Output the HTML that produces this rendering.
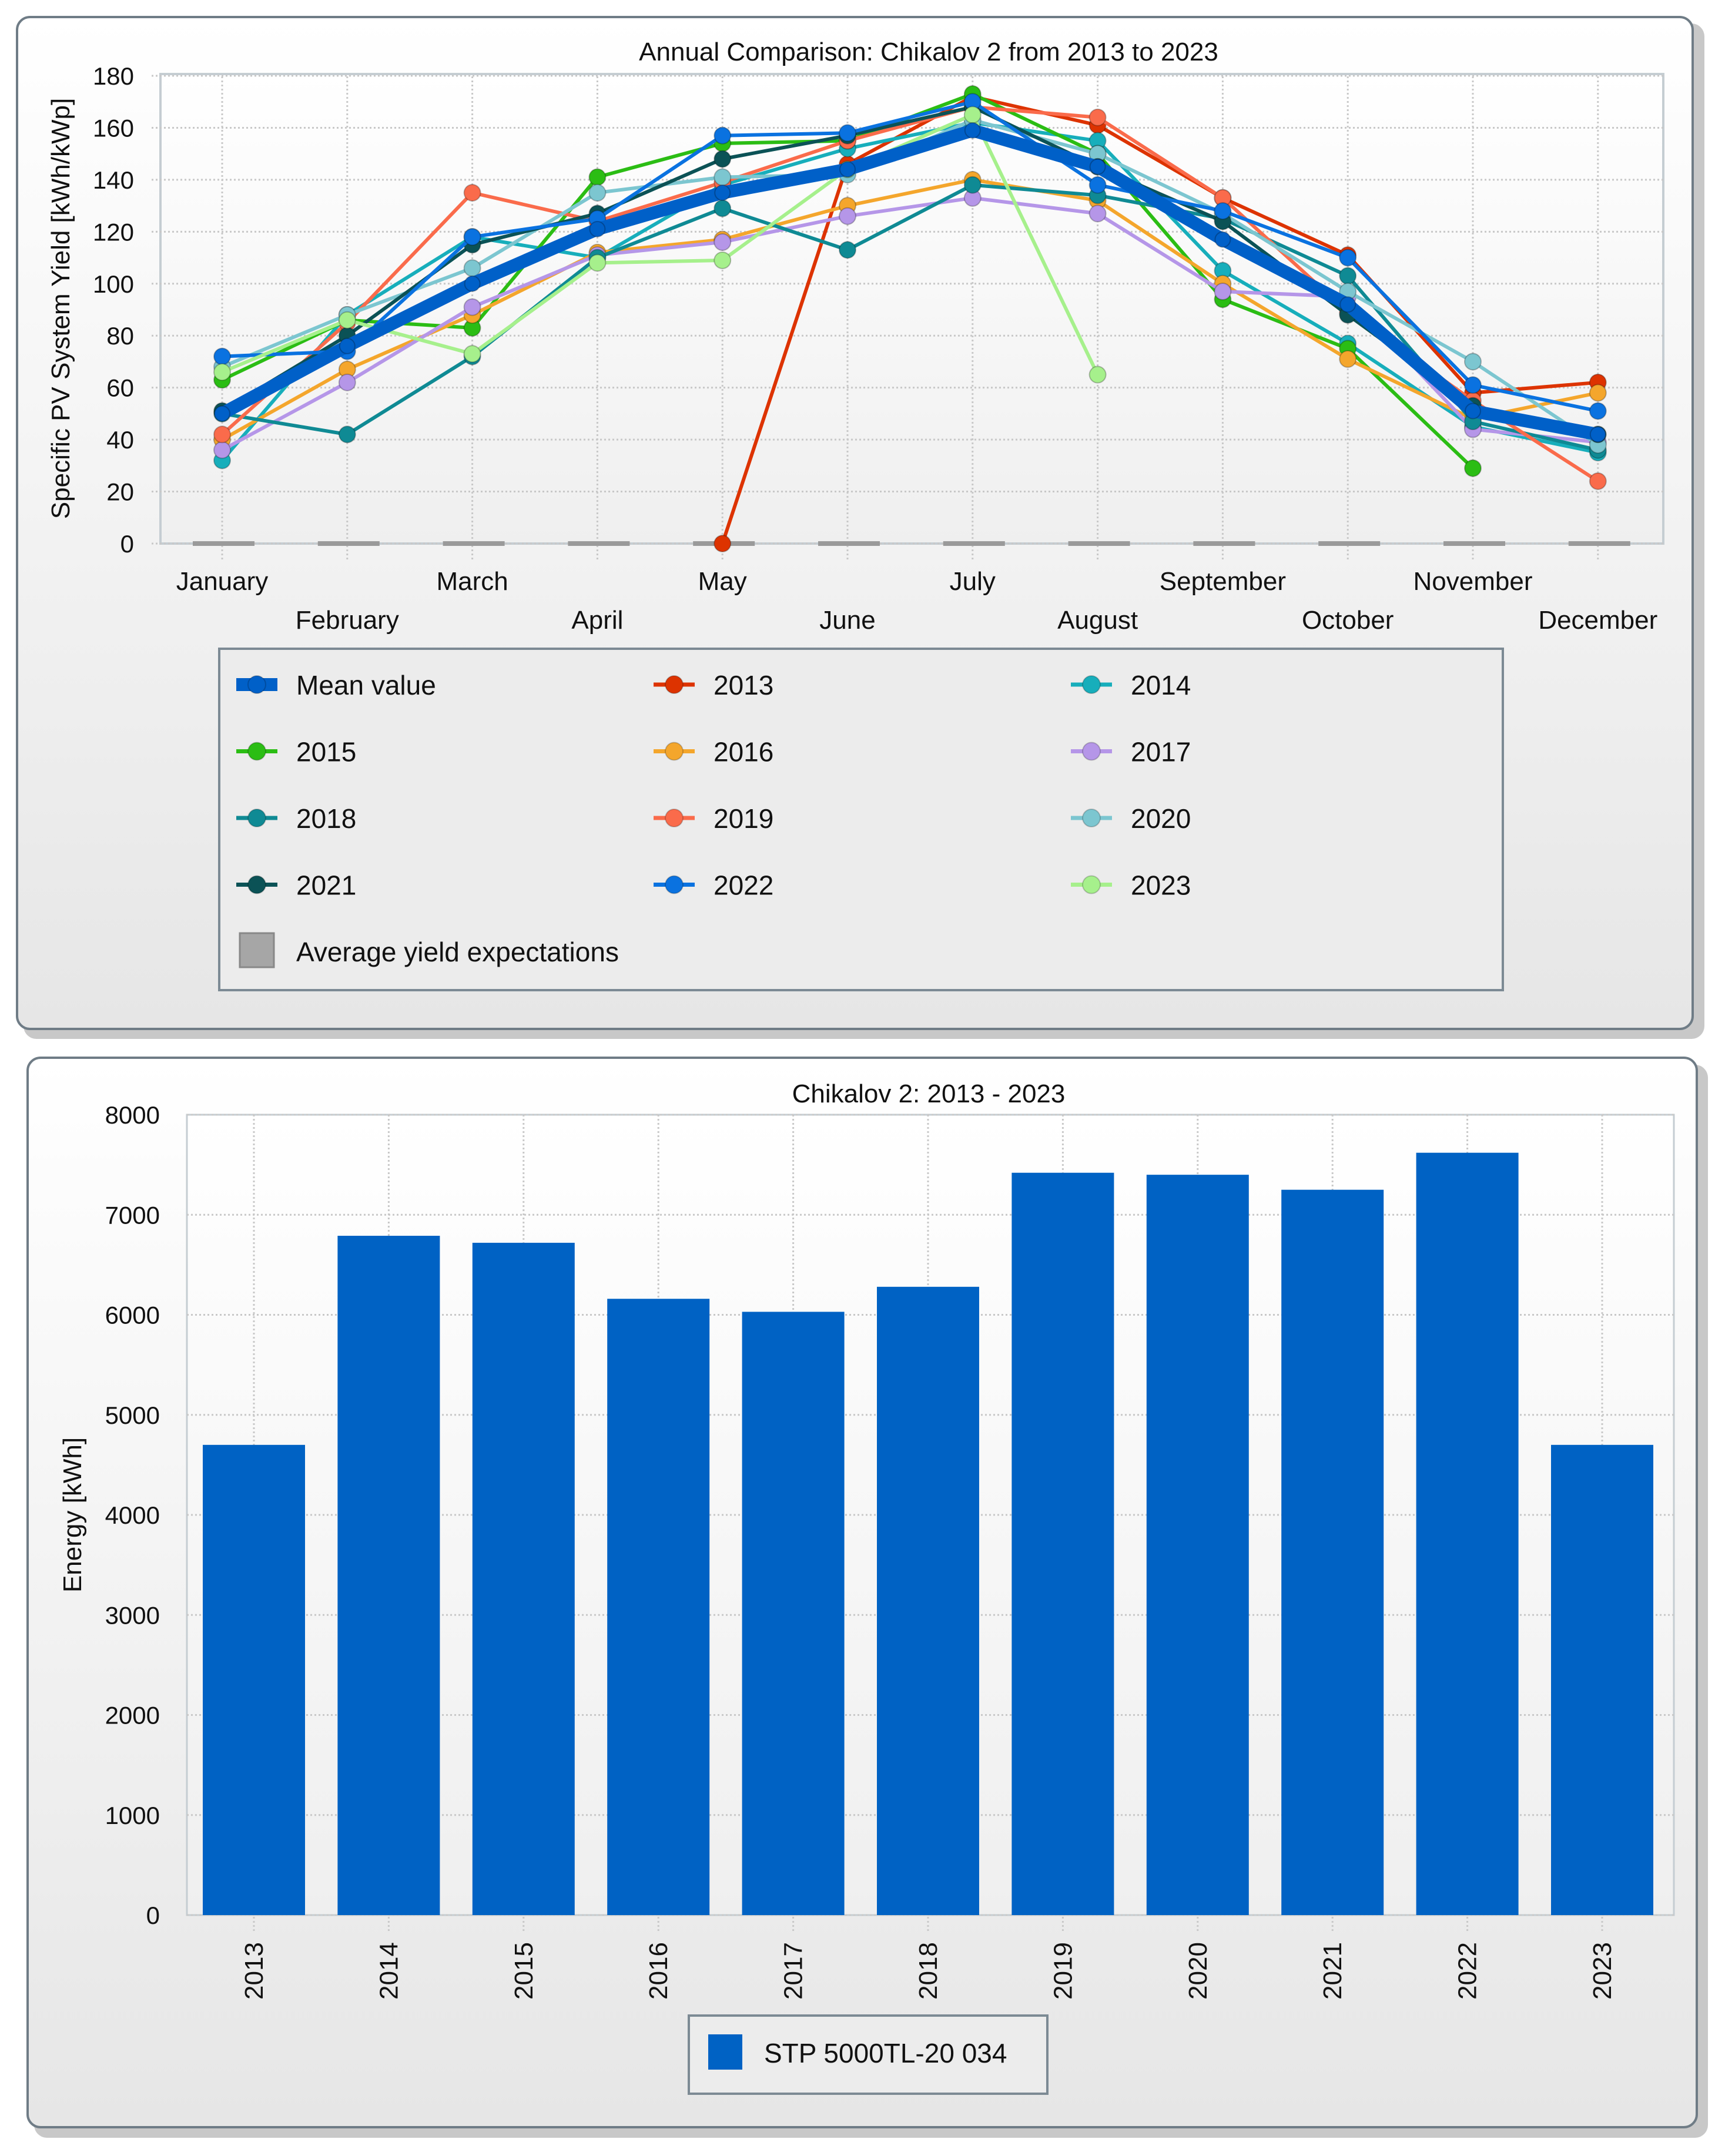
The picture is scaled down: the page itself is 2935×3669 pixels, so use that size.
<!DOCTYPE html>
<html><head><meta charset="utf-8"><style>
html,body{margin:0;padding:0;background:#fff}
svg{display:block;font-family:"Liberation Sans",sans-serif}
</style></head><body>
<svg id="s" width="2935" height="3669" viewBox="0 0 2935 3669" xmlns="http://www.w3.org/2000/svg">
<defs>
<linearGradient id="pg" x1="0" y1="0" x2="0" y2="1"><stop offset="0" stop-color="#ffffff"/><stop offset="1" stop-color="#e6e6e6"/></linearGradient>
<linearGradient id="ag" x1="0" y1="0" x2="0" y2="1"><stop offset="0" stop-color="#ffffff"/><stop offset="1" stop-color="#efefef"/></linearGradient>
</defs>
<!-- top panel -->
<rect x="40" y="40" width="2860" height="1728" rx="22" fill="#c8c8c8"/>
<rect x="29" y="29" width="2851" height="1722" rx="22" fill="url(#pg)" stroke="#6f7c86" stroke-width="4"/>
<text x="1580" y="103" font-size="44" text-anchor="middle" fill="#111">Annual Comparison: Chikalov 2 from 2013 to 2023</text>
<rect x="273" y="126" width="2557" height="799" fill="url(#ag)" stroke="#c5cdd2" stroke-width="4"/>
<g id="g1"></g>
<text transform="translate(118,525) rotate(-90)" font-size="44" text-anchor="middle" fill="#111">Specific PV System Yield [kWh/kWp]</text>
<rect x="373" y="1104" width="2184" height="581" fill="#ececec" stroke="#7c8a94" stroke-width="4"/>
<g id="leg"></g>
<!-- bottom panel -->
<rect x="58" y="1812" width="2848" height="1826" rx="22" fill="#c8c8c8"/>
<rect x="47" y="1800" width="2840" height="1820" rx="22" fill="url(#pg)" stroke="#6f7c86" stroke-width="4"/>
<text x="1580" y="1876" font-size="44" text-anchor="middle" fill="#111">Chikalov 2: 2013 - 2023</text>
<rect x="318" y="1897" width="2530" height="1362" fill="url(#ag)" stroke="#c5cdd2" stroke-width="3"/>
<g id="g2"></g>
<text transform="translate(138,2578) rotate(-90)" font-size="44" text-anchor="middle" fill="#111">Energy [kWh]</text>
<rect x="1172" y="3430" width="610" height="133" fill="#ececec" stroke="#7c8a94" stroke-width="4"/>
<rect x="1205" y="3462" width="58" height="60" fill="#0062c4"/>
<text x="1300" y="3510" font-size="46" fill="#111">STP 5000TL-20 034</text>
</svg>
<script>
const NS="http://www.w3.org/2000/svg";
const months=["January","February","March","April","May","June","July","August","September","October","November","December"];
const yTicks1=[0,20,40,60,80,100,120,140,160,180];
const seriesNames=["Mean value","2013","2014","2015","2016","2017","2018","2019","2020","2021","2022","2023"];
const sMean=[50,76,100,121,135,144,159,145,117,92,51,42];
const s2013=[null,null,null,null,0,146,172,161,133,111,58,62];
const s2014=[32,88,118,110,138,152,162,155,105,77,45,35];
const s2015=[63,86,83,141,154,155,173,150,94,75,29,null];
const s2016=[40,67,88,112,117,130,140,132,100,71,48,58];
const s2017=[36,62,91,111,116,126,133,127,97,95,44,39];
const s2018=[50,42,72,110,129,113,138,134,125,103,47,36];
const s2019=[42,85,135,124,139,155,168,164,133,89,55,24];
const s2020=[68,88,106,135,141,142,163,150,127,97,70,38];
const s2021=[51,80,115,127,148,157,168,145,124,88,53,42];
const s2022=[72,74,118,125,157,158,170,138,128,110,61,51];
const s2023=[66,86,73,108,109,144,165,65,null,null,null,null];
const expect=[0,0,0,0,0,0,0,0,0,0,0,0];
const years=["2013","2014","2015","2016","2017","2018","2019","2020","2021","2022","2023"];
const energy=[4700,6790,6720,6160,6030,6280,7420,7400,7250,7620,4700];
const yTicks2=[0,1000,2000,3000,4000,5000,6000,7000,8000];

const colors=["#0060c8","#dd3300","#17aebb","#2bbd14","#f4a62c","#b596e8","#0f8a94","#fa6b4b","#7cc6d0","#0b5256","#0a72e0","#a6f08c"];
const allSeries=[sMean,s2013,s2014,s2015,s2016,s2017,s2018,s2019,s2020,s2021,s2022,s2023];

function mk(tag,attrs,parent){const e=document.createElementNS(NS,tag);for(const k in attrs)e.setAttribute(k,attrs[k]);parent.appendChild(e);return e;}
const X1=i=>378+i*212.8;
const Y1=v=>925-v*(796/180);
const g1=document.getElementById('g1');
// grid
yTicks1.forEach(t=>{
  const l=mk('line',{x1:258,x2:2830,y1:Y1(t),y2:Y1(t),stroke:"#c8c8c8","stroke-width":3,"stroke-dasharray":"3 4"},g1);
  
  
  const tx=mk('text',{x:228,y:Y1(t)+15,"font-size":42,"text-anchor":"end",fill:"#111"},g1);
  tx.textContent=t;
  
  
});
months.forEach((m,i)=>{
  const l=mk('line',{x1:X1(i),x2:X1(i),y1:130,y2:955,stroke:"#c8c8c8","stroke-width":3,"stroke-dasharray":"3 4"},g1);
  
  
  const tx=mk('text',{x:X1(i),y:i%2?1070:1004,"font-size":44,"text-anchor":"middle",fill:"#111"},g1);
  tx.textContent=m;
  
  
  const e=mk('rect',{x:X1(i)-50,y:Y1(expect[i])-4,width:105,height:8,fill:"#9a9a9a"},g1);
  
  
});
// series: draw years first, mean on top
const order=[1,2,3,4,5,6,7,8,9,10,11,0];
order.forEach(si=>{
  const d=allSeries[si];const c=colors[si];const mean=si===0;
  const g=mk('g',{},g1);
  
  
  let pts=[];
  d.forEach((v,i)=>{if(v!==null)pts.push(X1(i)+','+Y1(v));});
  const pl=mk('polyline',{points:pts.join(' '),fill:"none",stroke:c,"stroke-width":mean?22:6,"stroke-linejoin":"round"},g);
  
  
  d.forEach((v,i)=>{if(v===null)return;
    const p=mk('circle',{cx:X1(i),cy:Y1(v),r:mean?13:14,fill:c,stroke:"rgba(0,0,0,0.25)","stroke-width":2},g);
    
    
  });
});
// legend
const leg=document.getElementById('leg');
seriesNames.forEach((n,i)=>{
  const col=i%3,row=Math.floor(i/3);
  const cx=437+col*710,cy=1165+row*113.5;
  const g=mk('g',{},leg);
  
  
  mk('line',{x1:cx-35,x2:cx+35,y1:cy,y2:cy,stroke:colors[i],"stroke-width":i===0?22:7},g);
  mk('circle',{cx:cx,cy:cy,r:15,fill:colors[i],stroke:"rgba(0,0,0,0.2)","stroke-width":2},g);
  const t=mk('text',{x:cx+67,y:cy+17,"font-size":46,fill:"#111"},g);
  t.textContent=n;
});
const ga=mk('g',{},leg);


mk('rect',{x:408,y:1588,width:58,height:58,fill:"#a6a6a6",stroke:"#888","stroke-width":3},ga);
const ta=mk('text',{x:504,y:1636,"font-size":46,fill:"#111"},ga);
ta.textContent="Average yield expectations";

// bar chart
const g2=document.getElementById('g2');
const X2=i=>432+i*229.4;
const Y2=v=>3259-v*(1362/8000);
yTicks2.forEach(t=>{
  const l=mk('line',{x1:318,x2:2848,y1:Y2(t),y2:Y2(t),stroke:"#c8c8c8","stroke-width":3,"stroke-dasharray":"3 4"},g2);
  
  
  const tx=mk('text',{x:272,y:Y2(t)+15,"font-size":42,"text-anchor":"end",fill:"#111"},g2);
  tx.textContent=t;
  
  
});
years.forEach((y,i)=>{
  const l=mk('line',{x1:X2(i),x2:X2(i),y1:1897,y2:3290,stroke:"#c8c8c8","stroke-width":3,"stroke-dasharray":"3 4"},g2);
  
  
  const b=mk('rect',{x:X2(i)-87,y:Y2(energy[i]),width:174,height:Y2(0)-Y2(energy[i]),fill:"#0062c4"},g2);
  
  
  const tx=mk('text',{transform:`translate(${X2(i)+15},3354) rotate(-90)`,"font-size":44,"text-anchor":"middle",fill:"#111"},g2);
  tx.textContent=y;
  
  
});
</script>
</body></html>
